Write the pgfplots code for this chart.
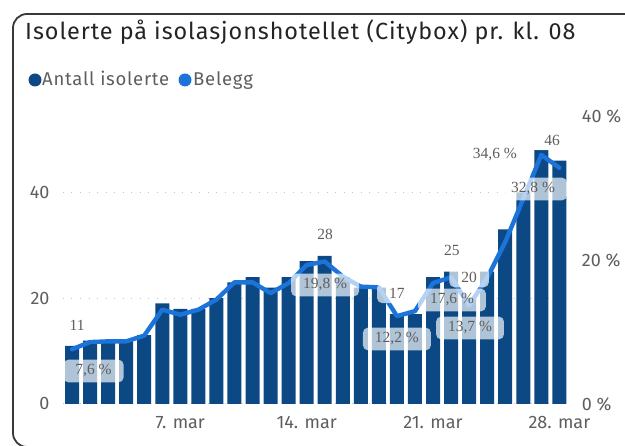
\documentclass[border=0pt]{standalone}
\usepackage{pgfplots}
\pgfplotsset{compat=1.18}
\usepackage{pgfplotstable}
\usepackage{fontspec}
\setmainfont{Fira Sans}
\newfontfamily\widefont{Fira Sans}[LetterSpace=4]
\newfontfamily\lblfont{Liberation Serif}
\definecolor{barblue}{HTML}{0B4884}
\definecolor{lineblue}{HTML}{1C74DB}
\definecolor{txtgray}{HTML}{605E5C}
\definecolor{titlegray}{HTML}{252423}
\definecolor{gridgray}{HTML}{C4C4C4}

\pgfplotstableread{
day n p
1 11 7.6
2 12 8.6
3 12 8.7
4 12 8.7
5 13 9.5
6 19 13.1
7 18 12.4
8 18 13.1
9 20 14.5
10 23 16.9
11 24 16.9
12 22 15.4
13 24 16.8
14 27 19.3
15 28 19.8
16 24 17.7
17 22 16.3
18 22 16.2
19 17 12.2
20 17 12.9
21 24 16.8
22 25 17.6
23 20 13.7
24 25 17.5
25 33 22.5
26 40 28.5
27 48 34.6
28 46 32.8
}\datatable

\pgfplotsset{
  common/.style={
    at={(63pt,42pt)}, anchor=south west,
    width=505.4pt, height=288pt, scale only axis,
    xmin=0.5, xmax=28.5,
    axis line style={draw=none}, tick style={draw=none},
    major tick length=0pt,
    /pgf/number format/assume math mode=true,
  },
}
\tikzset{
  lbl/.style={font=\lblfont\fontsize{15.5}{16}\selectfont, text=txtgray,
    fill=white, fill opacity=0.68, text opacity=1, rounded corners=5pt,
    inner xsep=12pt, inner ysep=5pt},
}

\begin{document}
\begin{tikzpicture}
\path[use as bounding box] (0pt,0pt) rectangle (625pt,446pt);
\draw[line width=1.8pt, draw=black!78, rounded corners=14pt] (13pt,-1pt) rectangle (660pt,432pt);
\node[anchor=base west, font=\widefont\fontsize{23.4}{24}\selectfont, text=titlegray, inner sep=0pt] at (25pt,406pt) {Isolerte på isolasjonshotellet (Citybox) pr. kl. 08};
\fill[barblue] (35pt,366pt) circle (6.5pt);
\node[anchor=base west, font=\widefont\fontsize{18.5}{19}\selectfont, text=txtgray, inner sep=0pt] at (42pt,360pt) {Antall isolerte};
\fill[lineblue] (185pt,366pt) circle (6.5pt);
\node[anchor=base west, font=\widefont\fontsize{18.5}{19}\selectfont, text=txtgray, inner sep=0pt] at (193pt,360pt) {Belegg};

\begin{axis}[common,
  ymin=0, ymax=54.44,
  ytick={0,20,40}, yticklabels={0,20,40},
  ymajorgrids, grid style={gridgray, line width=1pt, dash pattern=on 1pt off 7.5pt},
  xtick={7,14,21,28}, xticklabels={7. mar,14. mar,21. mar,28. mar},
  xticklabel style={font=\fontsize{18}{18}\selectfont, text=txtgray, anchor=north, yshift=-9pt},
  yticklabel style={font=\fontsize{18}{18}\selectfont, text=txtgray, anchor=east, xshift=-10pt},
  ybar, bar width=14pt,
]
\addplot[fill=barblue, draw=none] table[x=day,y=n]{\datatable};
\end{axis}

\begin{axis}[common,
  ymin=0, ymax=40,
  xtick=\empty,
  ytick={0,20,40}, yticklabels={0 \%,20 \%,40 \%},
  yticklabel pos=right,
  yticklabel style={font=\fontsize{18}{18}\selectfont, text=txtgray, anchor=west, xshift=10pt},
]
\addplot[lineblue, line width=4.4pt, line join=round, line cap=round] table[x=day,y=p]{\datatable};
\node[lbl] at (axis cs:2.19,4.58) {7,6 \%};
\node[lbl] at (axis cs:15.02,16.53) {19,8 \%};
\node[lbl] at (axis cs:19.0,9.03) {12,2 \%};
\node[lbl] at (axis cs:22.05,14.44) {17,6 \%};
\node[lbl] at (axis cs:23.05,10.56) {13,7 \%};
\node[lbl] at (axis cs:24.43,34.58) {34,6 \%};
\node[lbl] at (axis cs:26.54,29.86) {32,8 \%};
\end{axis}

\begin{axis}[common,
  ymin=0, ymax=54.44,
  xtick=\empty, ytick=\empty,
]
\node[lbl] at (axis cs:1.28,14.93) {11};
\node[lbl] at (axis cs:15.02,32.1) {28};
\node[lbl] at (axis cs:19.0,20.98) {17};
\node[lbl] at (axis cs:22.05,29.1) {25};
\node[lbl] at (axis cs:23.0,24.0) {20};
\node[lbl] at (axis cs:27.6,49.9) {46};
\end{axis}
\end{tikzpicture}
\end{document}
